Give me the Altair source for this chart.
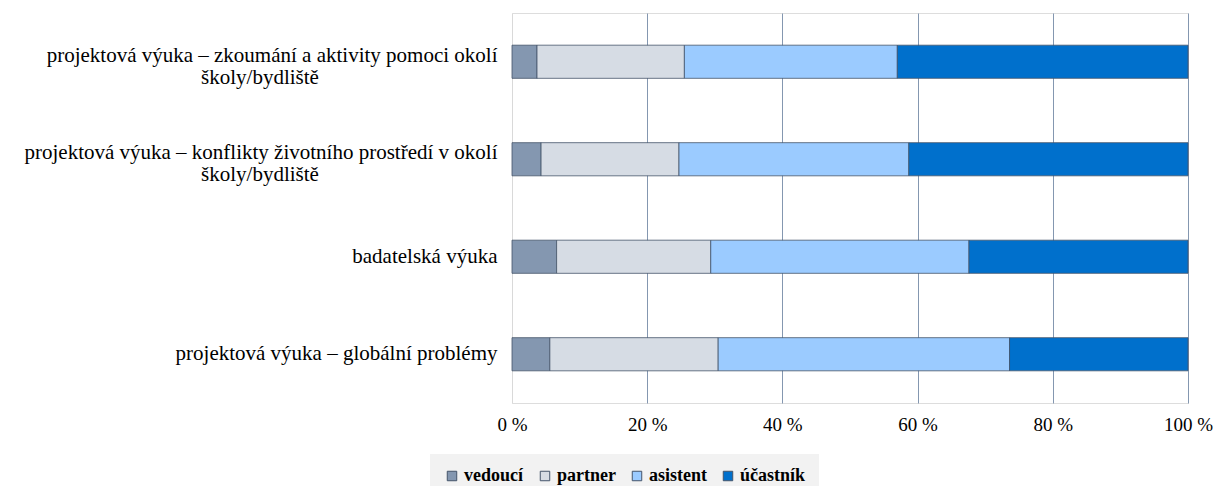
import altair as alt
import pandas as pd

categories = [
    "projektová výuka – zkoumání a aktivity pomoci okolí\nškoly/bydliště",
    "projektová výuka – konflikty životního prostředí v okolí\nškoly/bydliště",
    "badatelská výuka",
    "projektová výuka – globální problémy",
]

series = ["vedoucí", "partner", "asistent", "účastník"]
vedouci = [3.7, 4.3, 6.6, 5.6]
partner = [21.8, 20.4, 22.8, 24.9]
asistent = [31.5, 34.0, 38.2, 43.1]
ucastnik = [43.0, 41.3, 32.4, 26.4]
colors = ["#8497B0", "#D6DCE4", "#9BCBFF", "#0070CC"]
x_ticks = [0, 0.2, 0.4, 0.6, 0.8, 1.0]

rows = []
for i, lab in enumerate(categories):
    vals = [vedouci[i], partner[i], asistent[i], ucastnik[i]]
    tot = sum(vals)
    for j, s in enumerate(series):
        rows.append({"kategorie": lab, "role": s, "podil": vals[j] / tot, "ord": j})
df = pd.DataFrame(rows)

second = pd.DataFrame(
    [{"kategorie": c, "radek2": c.split("\n")[1]} for c in categories if "\n" in c]
)

FONT = "Times New Roman, Liberation Serif, DejaVu Serif, serif"

y_enc = alt.Y(
    "kategorie:N",
    sort=categories,
    title=None,
    scale=alt.Scale(paddingInner=0.66, paddingOuter=0.33),
    axis=alt.Axis(
        labelExpr="split(datum.label, '\\n')[0]",
        labelOffset={"expr": "indexof(datum.value, '\\n') >= 0 ? -6 : 0"},
        labelFont=FONT,
        labelFontSize=21,
        labelColor="#000000",
        labelLimit=700,
        labelPadding=15,
        minExtent=504,
        maxExtent=504,
        ticks=False,
        domain=False,
        grid=False,
    ),
)

bars = (
    alt.Chart(df)
    .mark_bar(stroke="#44546A", strokeWidth=0.8)
    .encode(
        y=y_enc,
        x=alt.X(
            "podil:Q",
            stack="zero",
            title=None,
            scale=alt.Scale(domain=[0, 1], nice=False),
            axis=alt.Axis(
                values=x_ticks,
                labelExpr="round(datum.value * 100) + ' %'",
                labelFont=FONT,
                labelFontSize=19,
                labelColor="#000000",
                labelPadding=12,
                labelFlush=False,
                ticks=False,
                domain=False,
                grid=True,
                gridColor={"expr": "datum.value === 0 ? '#D9D9D9' : '#8497B0'"},
                gridWidth=1,
            ),
        ),
        color=alt.Color(
            "role:N",
            sort=series,
            scale=alt.Scale(domain=series, range=colors),
            legend=alt.Legend(
                title=None,
                orient="none",
                direction="horizontal",
                legendX=-82,
                legendY=441,
                fillColor="#F2F2F2",
                padding=13,
                labelFont=FONT,
                labelFontSize=18,
                labelFontWeight="bold",
                labelColor="#000000",
                symbolType="square",
                symbolSize=90,
                symbolStrokeColor="#44546A",
                symbolStrokeWidth=1,
                columnPadding=12,
                labelOffset=3,
            ),
        ),
        order=alt.Order("ord:Q"),
    )
)

line2 = (
    alt.Chart(second)
    .mark_text(font=FONT, fontSize=21, color="#000000", align="center", baseline="middle", dy=16)
    .encode(
        y=alt.Y("kategorie:N", sort=categories),
        x=alt.value(-252),
        text="radek2:N",
    )
)

chart = (
    alt.layer(bars, line2)
    .properties(width=676, height=390)
    .configure_view(stroke=None)
    .configure(padding={"left": 0, "top": 5, "right": 0, "bottom": 0})
)

chart.save("out.html", embed_options={"renderer": "svg", "actions": False})
